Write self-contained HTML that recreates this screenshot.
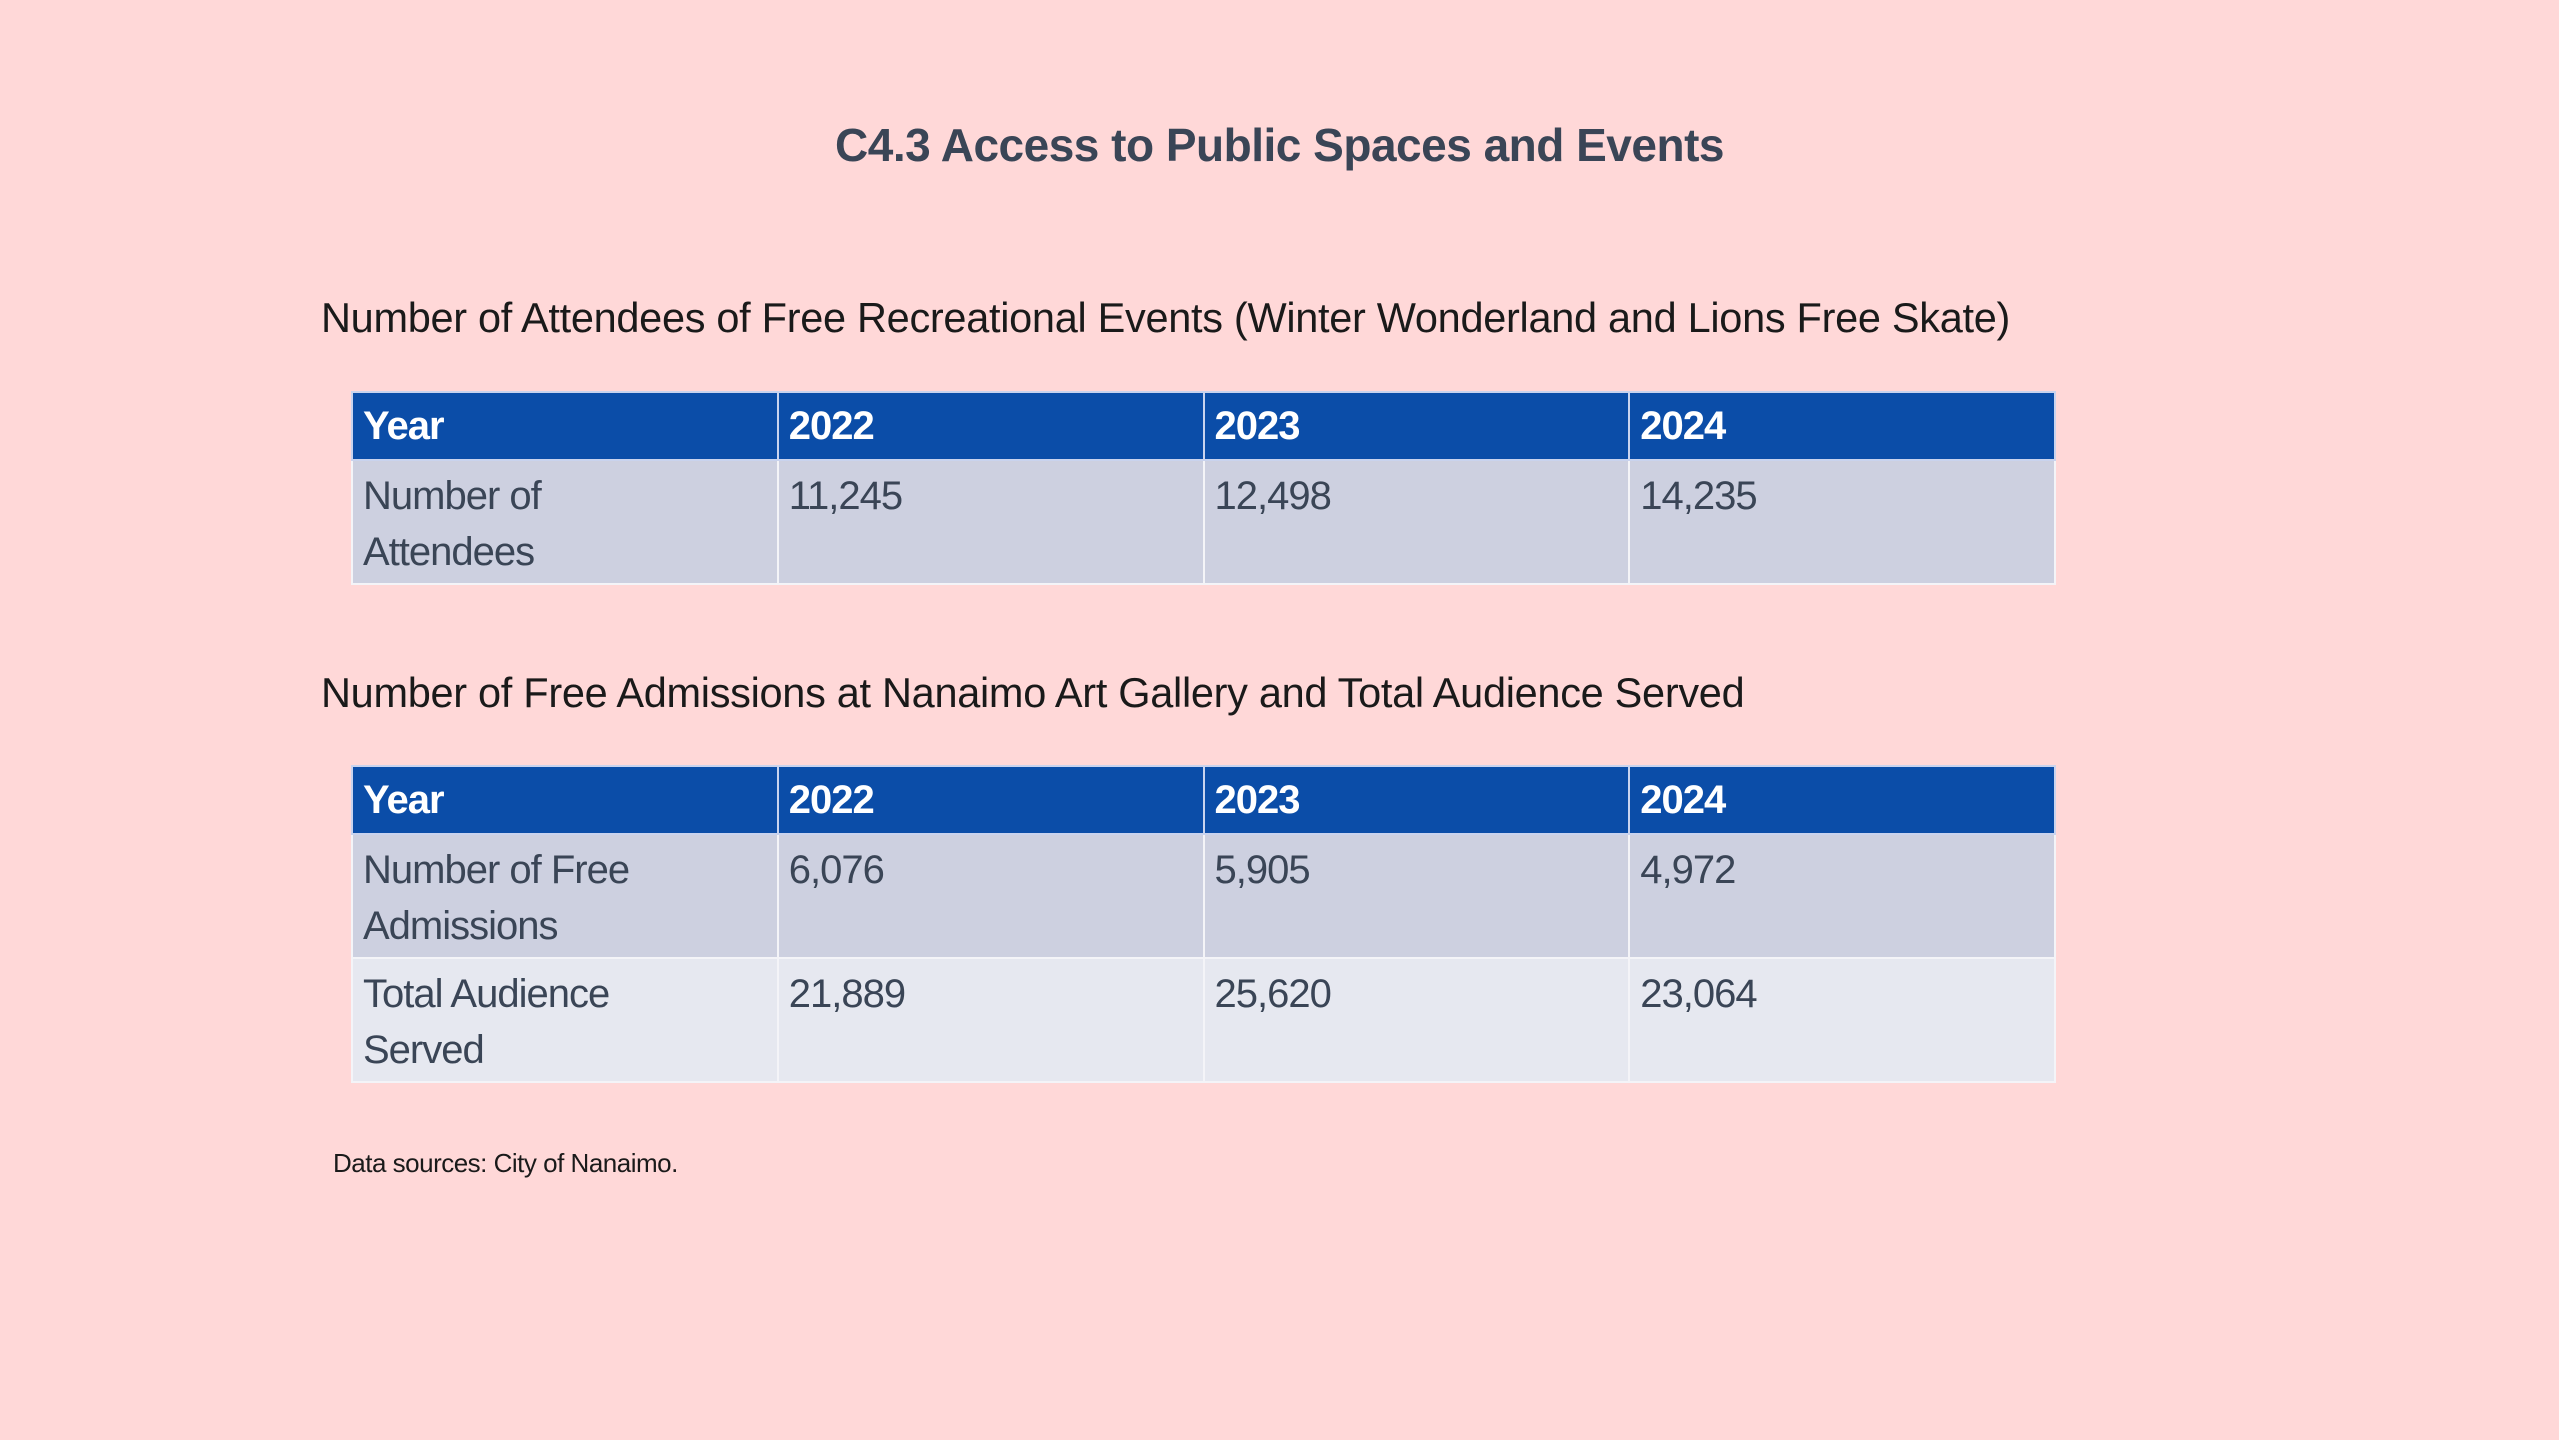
<!DOCTYPE html>
<html><head><meta charset="utf-8"><style>
body{margin:0;width:2559px;height:1440px;background:#FFD8D8;font-family:"Liberation Sans",sans-serif;position:relative;overflow:hidden;color:#3A4556}
.t{position:absolute;white-space:nowrap}
table{position:absolute;left:351px;width:1705px;border-collapse:collapse;table-layout:fixed}
td{border:2px solid #F4F4F8;vertical-align:top;padding:7px 10px 3px 10px;font-size:40px;line-height:56px;height:112px;box-sizing:border-box;color:#3A4556;letter-spacing:-1px}
tr.h td{background:#0B4DA8;color:#fff;font-weight:bold;height:55px;padding-top:4px;padding-bottom:4px;line-height:58px;border-color:#C9D3EE}
tr.a td{background:#CDD0E0}
tr.b td{background:#E6E8F0}
</style></head><body>
<div class="t" style="left:0;width:2559px;text-align:center;top:118px;font-size:46px;font-weight:bold;letter-spacing:-0.5px">C4.3 Access to Public Spaces and Events</div>
<div class="t" style="left:321px;top:294px;font-size:41.5px;color:#1a1a1a;letter-spacing:-0.3px">Number of Attendees of Free Recreational Events (Winter Wonderland and Lions Free Skate)</div>
<table style="top:391px"><colgroup><col><col><col><col></colgroup>
<tr class="h"><td>Year</td><td>2022</td><td>2023</td><td>2024</td></tr>
<tr class="a"><td>Number of<br>Attendees</td><td>11,245</td><td>12,498</td><td>14,235</td></tr>
</table>
<div class="t" style="left:321px;top:669px;font-size:41.5px;color:#1a1a1a;letter-spacing:-0.3px">Number of Free Admissions at Nanaimo Art Gallery and Total Audience Served</div>
<table style="top:765px">
<tr class="h"><td>Year</td><td>2022</td><td>2023</td><td>2024</td></tr>
<tr class="a"><td>Number of Free<br>Admissions</td><td>6,076</td><td>5,905</td><td>4,972</td></tr>
<tr class="b"><td>Total Audience<br>Served</td><td>21,889</td><td>25,620</td><td>23,064</td></tr>
</table>
<div class="t" style="left:333px;top:1148px;font-size:26px;color:#1a1a1a;letter-spacing:-0.5px">Data sources: City of Nanaimo.</div>
</body></html>
